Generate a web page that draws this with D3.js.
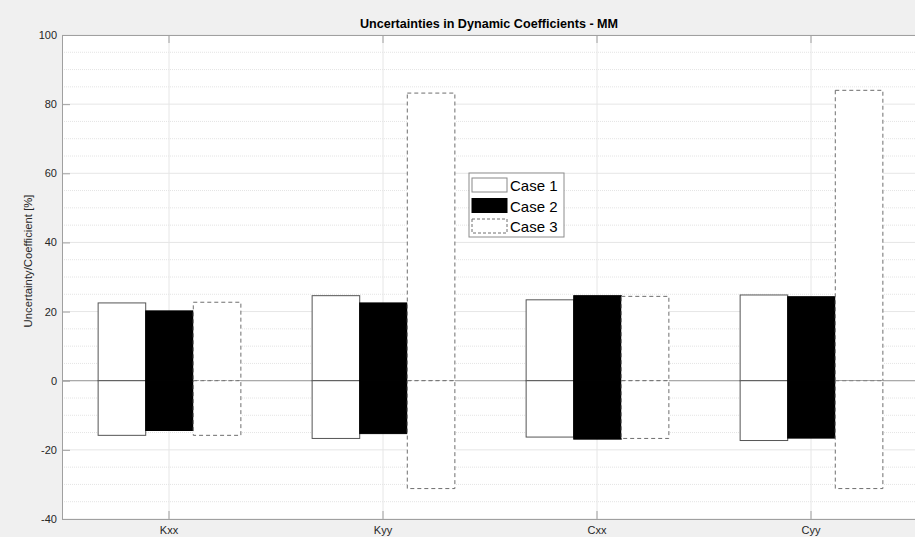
<!DOCTYPE html>
<html>
<head>
<meta charset="utf-8">
<script src="https://cdn.jsdelivr.net/npm/d3@7"></script>
<style>
  body { margin: 0; background: #f0f0f0; }
  svg { display: block; font-family: "Liberation Sans", Arial, sans-serif; }
  .tick text { fill: #262626; font-size: 11px; }
</style>
</head>
<body>
<div id="chart"></div>
<script>
// values
var categories = ["Kxx", "Kyy", "Cxx", "Cyy"];
var cases = ["Case 1", "Case 2", "Case 3"];
// upper / lower uncertainty per case, same order as categories
var upper = {
  "Case 1": [22.5, 24.6, 23.4, 24.8],
  "Case 2": [20.2, 22.5, 24.6, 24.3],
  "Case 3": [22.7, 83.2, 24.4, 84.0]
};
var lower = {
  "Case 1": [-15.8, -16.7, -16.3, -17.3],
  "Case 2": [-14.4, -15.3, -16.9, -16.6],
  "Case 3": [-15.8, -31.2, -16.7, -31.2]
};
var yTicks = [-40, -20, 0, 20, 40, 60, 80, 100];

var W = 915, H = 537;
var margin = {top: 35, left: 62};
var plotRight = 918, plotBottom = 519;

var svg = d3.select("#chart").append("svg").attr("width", W).attr("height", H);
svg.append("rect").attr("width", W).attr("height", H).attr("fill", "#f0f0f0");

var xScale = d3.scaleBand().domain(categories).range([margin.left, plotRight]);
var xSub = d3.scaleBand().domain(cases).range([0, xScale.bandwidth() * 0.667]);
var yScale = d3.scaleLinear().domain([-40, 100]).range([plotBottom, margin.top]);

// plot area
svg.append("rect").attr("x", margin.left).attr("y", margin.top)
  .attr("width", plotRight - margin.left).attr("height", plotBottom - margin.top)
  .attr("fill", "#ffffff");

// minor grid every 5
var g = svg.append("g");
var minor = d3.range(-40, 101, 5).filter(v => v % 20 !== 0);
g.selectAll(".minor").data(minor).enter().append("line")
  .attr("x1", margin.left).attr("x2", plotRight)
  .attr("y1", d => yScale(d)).attr("y2", d => yScale(d))
  .attr("stroke", "#e4e4e4").attr("stroke-dasharray", "1,1");
// major grid
g.selectAll(".major").data(yTicks).enter().append("line")
  .attr("x1", margin.left).attr("x2", plotRight)
  .attr("y1", d => yScale(d)).attr("y2", d => yScale(d))
  .attr("stroke", "#e6e6e6");
g.selectAll(".vgrid").data(categories).enter().append("line")
  .attr("x1", d => xScale(d) + xScale.bandwidth() / 2).attr("x2", d => xScale(d) + xScale.bandwidth() / 2)
  .attr("y1", margin.top).attr("y2", plotBottom)
  .attr("stroke", "#e6e6e6");

// baseline
svg.append("line").attr("x1", margin.left).attr("x2", plotRight)
  .attr("y1", yScale(0)).attr("y2", yScale(0))
  .attr("stroke", "#9a9a9a");

var styles = {
  "Case 1": {fill: "#ffffff", stroke: "#555555", dash: null},
  "Case 2": {fill: "#000000", stroke: "#000000", dash: null},
  "Case 3": {fill: "#ffffff", stroke: "#6e6e6e", dash: "4,3"}
};

var barData = [];
cases.forEach(c => {
  categories.forEach((cat, i) => {
    barData.push({cat: cat, c: c, v0: 0, v1: upper[c][i]});
    barData.push({cat: cat, c: c, v0: lower[c][i], v1: 0});
  });
});
var groupOffset = (xScale.bandwidth() - xSub.range()[1]) / 2;

svg.append("g").selectAll("rect").data(barData).enter().append("rect")
  .attr("x", d => xScale(d.cat) + groupOffset + xSub(d.c) + 0.5)
  .attr("y", d => yScale(d.v1))
  .attr("width", xSub.bandwidth())
  .attr("height", d => yScale(d.v0) - yScale(d.v1))
  .attr("fill", d => styles[d.c].fill)
  .attr("stroke", d => styles[d.c].stroke)
  .attr("stroke-width", 1)
  .attr("stroke-dasharray", d => styles[d.c].dash);

// axes
var axisColor = "#a0a0a0";
var yAxis = svg.append("g").attr("transform", `translate(${margin.left},0)`)
  .call(d3.axisLeft(yScale).tickValues(yTicks).tickSize(-8).tickPadding(5).tickFormat(d => String(d)));
var xAxis = svg.append("g").attr("transform", `translate(0,${plotBottom})`)
  .call(d3.axisBottom(xScale).tickSize(-8).tickPadding(7));
var topAxis = svg.append("g").attr("transform", `translate(0,${margin.top})`)
  .call(d3.axisTop(xScale).tickSize(-8).tickFormat(""));
[yAxis, xAxis, topAxis].forEach(a => {
  a.select(".domain").attr("stroke", axisColor);
  a.selectAll(".tick line").attr("stroke", axisColor);
});

// title
svg.append("text").attr("x", 489).attr("y", 28)
  .attr("text-anchor", "middle").attr("font-weight", "bold")
  .attr("font-size", 12.6).attr("fill", "#000")
  .text("Uncertainties in Dynamic Coefficients - MM");

// y label
svg.append("text").attr("transform", "translate(32,261) rotate(-90)")
  .attr("text-anchor", "middle").attr("font-size", 11.3).attr("fill", "#262626")
  .text("Uncertainty/Coefficient [%]");

// legend
var leg = svg.append("g").attr("transform", "translate(469,173)");
leg.append("rect").attr("width", 95).attr("height", 64)
  .attr("fill", "#ffffff").attr("stroke", "#8c8c8c");
var items = leg.selectAll(".item").data(cases).enter().append("g")
  .attr("transform", (d, i) => `translate(3,${5 + i * 20.5})`);
items.append("rect").attr("width", 35).attr("height", 14)
  .attr("fill", d => styles[d].fill)
  .attr("stroke", d => d === "Case 1" ? "#888" : styles[d].stroke)
  .attr("stroke-dasharray", d => styles[d].dash ? "3,2" : null);
items.append("text").attr("x", 38).attr("y", 13)
  .attr("font-size", 15).attr("fill", "#000").text(d => d);
</script>
</body>
</html>
